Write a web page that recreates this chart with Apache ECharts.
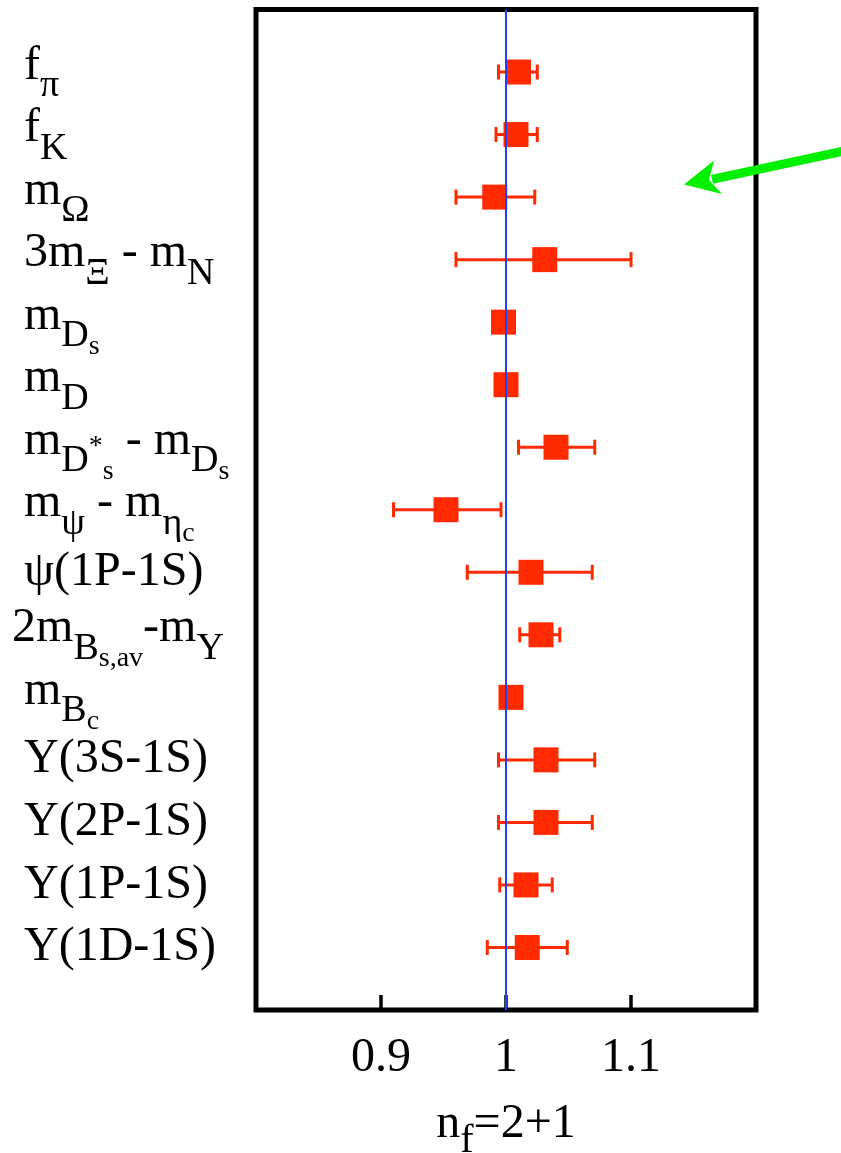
<!DOCTYPE html>
<html><head><meta charset="utf-8">
<script src="https://cdn.jsdelivr.net/npm/echarts@6/dist/echarts.min.js"></script>
<style>html,body{margin:0;padding:0;background:#fff}#c{width:841px;height:1153px}</style>
</head><body><div id="c"></div>
<script>
// ---- data ----
const categories = ['f_π','f_K','m_Ω','3m_Ξ - m_N','m_{D_s}','m_D','m_{D^*_s} - m_{D_s}','m_ψ - m_{η_c}','ψ(1P-1S)','2m_{B_{s,av}}-m_Y','m_{B_c}','Y(3S-1S)','Y(2P-1S)','Y(1P-1S)','Y(1D-1S)'];
const values   = [1.010, 1.008, 0.991, 1.031, 0.998, 1.000, 1.040, 0.952, 1.020, 1.028, 1.004, 1.032, 1.032, 1.016, 1.017];
const errLow   = [0.994, 0.992, 0.960, 0.960, 0.993, 0.995, 1.010, 0.910, 0.969, 1.011, 0.999, 0.994, 0.994, 0.995, 0.985];
const errHigh  = [1.025, 1.025, 1.023, 1.100, 1.003, 1.005, 1.071, 0.996, 1.069, 1.043, 1.009, 1.071, 1.069, 1.037, 1.049];
const xTickValues = [0.9, 1, 1.1];
const xTickLabels = ['0.9', '1', '1.1'];
const xTitle = 'n_f=2+1';
const refValue = 1;

// ---- layout / style ----
const FONT = 'Liberation Serif';
const RED = '#ff2a00', BLUE = '#2040ff', GREEN = '#00f000';
const H = 160;
const LEVELS = { m:{size:48, off:0}, b:{size:38, off:20}, bb:{size:28, off:30}, bp:{size:28, off:5} };
const labelShift = {10: -12};

function parseMarkup(s){
  const out = [];
  function walk(str, lvl){
    let i = 0, buf = '';
    const flush = () => { if (buf) { out.push({t: buf, l: lvl || 'm'}); buf = ''; } };
    while (i < str.length){
      const ch = str[i];
      if (ch === '_' || ch === '^'){
        flush();
        const nl = lvl + (ch === '_' ? 'b' : 'p');
        let arg;
        if (str[i+1] === '{'){
          let d = 0, j = i + 1;
          for (; j < str.length; j++){ if (str[j] === '{') d++; else if (str[j] === '}'){ d--; if (d === 0) break; } }
          arg = str.slice(i + 2, j); i = j + 1;
        } else { arg = str[i+1]; i += 2; }
        walk(arg, nl);
      } else { buf += ch; i++; }
    }
    flush();
  }
  walk(s, '');
  return out;
}
function vstyle(size, o){
  const st = {fontFamily: FONT, fontSize: size, color: '#000'};
  if (o <= 0){ st.verticalAlign = 'top'; st.height = st.lineHeight = 2 * (H/2 + o); }
  else { st.verticalAlign = 'bottom'; st.height = st.lineHeight = 2 * (H/2 - o); }
  return st;
}
const GROUPS = { p: 0, s: -6, x: 0 };
const rich = {
  sp0: {fontFamily: FONT, fontSize: 10, width: 12, height: H, lineHeight: H, verticalAlign: 'top'},
  sp1: {fontFamily: FONT, fontSize: 10, width: 0.1, height: H, lineHeight: H, verticalAlign: 'top'}
};
for (const g in GROUPS) for (const l in LEVELS) rich[g + '_' + l] = vstyle(LEVELS[l].size, GROUPS[g] + LEVELS[l].off);
rich['x_b'] = vstyle(40, 17);

function toRich(str, group, spacer){
  const toks = parseMarkup(str);
  const g = group || (toks.some(t => t.l !== 'm') ? 's' : 'p');
  return (spacer ? '{' + spacer + '| }' : '') + toks.map(t => '{' + g + '_' + t.l + '|' + t.t + '}').join('');
}
const yLabels = categories.map((c, i) => toRich(c, null, labelShift[i+1] ? 'sp1' : 'sp0'));

const chart = echarts.init(document.getElementById('c'), null, {renderer: 'canvas'});
chart.setOption({
  animation: false,
  backgroundColor: '#fff',
  grid: { left: 256, right: 85, top: 9.5, bottom: 143, show: true, borderColor: '#000', borderWidth: 5, backgroundColor: 'transparent', containLabel: false, outerBoundsMode: 'none' },
  xAxis: {
    type: 'value', min: 0.8, max: 1.2, interval: 0.1, position: 'bottom',
    axisLine: {show: false, onZero: false}, splitLine: {show: false},
    axisTick: {show: true, inside: true, length: 15, lineStyle: {color: '#000', width: 3.5}},
    axisLabel: {
      margin: 24, fontFamily: FONT, fontSize: 48, color: '#000',
      formatter: v => { const k = xTickValues.findIndex(t => Math.abs(t - v) < 1e-6); return k < 0 ? '' : xTickLabels[k]; }
    },
    name: toRich(xTitle, 'x', null), nameLocation: 'middle', nameGap: 114, nameMoveOverlap: false,
    nameTextStyle: {fontFamily: FONT, fontSize: 48, color: '#000', verticalAlign: 'middle', rich: rich}
  },
  yAxis: {
    type: 'value', min: 0, max: categories.length + 1, interval: 1, inverse: true,
    axisLine: {show: false, onZero: false}, axisTick: {show: false}, splitLine: {show: false},
    axisLabel: {
      margin: 244, align: 'left', fontFamily: FONT, fontSize: 48, color: '#000', rich: rich,
      formatter: v => { const i = Math.round(v); if (Math.abs(v - i) > 1e-6 || i < 1 || i > categories.length) return ''; return yLabels[i-1]; }
    }
  },
  series: [
    {
      type: 'custom', z: 2,
      data: values.map((v, i) => [errLow[i], i + 1, errHigh[i]]),
      encode: {x: [0, 2], y: 1},
      renderItem: (params, api) => {
        const y = api.value(1);
        const p1 = api.coord([api.value(0), y]), p2 = api.coord([api.value(2), y]);
        const cap = 7.5, st = {stroke: RED, lineWidth: 3};
        return {type: 'group', children: [
          {type: 'line', shape: {x1: p1[0], y1: p1[1], x2: p2[0], y2: p2[1]}, style: st},
          {type: 'line', shape: {x1: p1[0], y1: p1[1] - cap, x2: p1[0], y2: p1[1] + cap}, style: st},
          {type: 'line', shape: {x1: p2[0], y1: p2[1] - cap, x2: p2[0], y2: p2[1] + cap}, style: st}
        ]};
      }
    },
    {
      type: 'scatter', z: 3, symbol: 'rect', symbolSize: 25,
      itemStyle: {color: RED, opacity: 1},
      data: values.map((v, i) => [v, i + 1])
    },
    {
      type: 'line', z: 4, symbol: 'none', showSymbol: false,
      lineStyle: {color: BLUE, width: 2}, itemStyle: {color: BLUE},
      data: [[refValue, 0], [refValue, categories.length + 1]]
    }
  ],
  graphic: [
    {type: 'line', z: 10, shape: {x1: 880, y1: 143.3, x2: 712, y2: 179.4}, style: {stroke: GREEN, lineWidth: 9}},
    {type: 'polygon', z: 10, shape: {points: [[684, 184.5], [714, 160.5], [709, 180], [722, 194]]}, style: {fill: GREEN}}
  ]
});
</script></body></html>
